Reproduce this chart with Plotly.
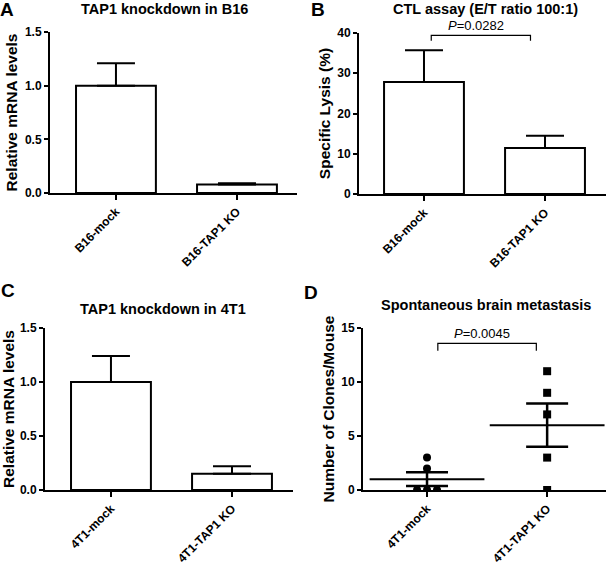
import numpy as np
import plotly.graph_objects as go

# Panel A: TAP1 mRNA in B16
a_groups = ["B16-mock", "B16-TAP1 KO"]
a_vals = [1.0, 0.08]
a_err = [0.21, 0.01]

# Panel B: CTL assay
b_groups = ["B16-mock", "B16-TAP1 KO"]
b_vals = [27.8, 11.4]
b_err = [7.9, 3.1]
b_pval = "<i>P</i>=0.0282"

# Panel C: TAP1 mRNA in 4T1
c_groups = ["4T1-mock", "4T1-TAP1 KO"]
c_vals = [1.0, 0.15]
c_err = [0.24, 0.07]

# Panel D: brain metastasis counts per mouse
d_groups = ["4T1-mock", "4T1-TAP1 KO"]
d_mock = [0, 0, 0, 2, 3]
d_mock_x = [-0.083, 0.0, 0.083, 0.0, 0.0]
d_ko = [0, 3, 7, 9, 11]
d_ko_x = [1, 1, 1, 1, 1]
d_pval = "<i>P</i>=0.0045"

# y ticks per panel
a_yticks = [0, 0.5, 1.0, 1.5]
b_yticks = [0, 10, 20, 30, 40]
c_yticks = [0, 0.5, 1.0, 1.5]
d_yticks = [0, 5, 10, 15]

FONT = "Arial, Liberation Sans, sans-serif"
W, H = 609, 562


def px_x(p):
    return p / W


def px_y(p):
    return 1 - p / H


def bold(s):
    return f"<b>{s}</b>"


fig = go.Figure()


def bar_panel(n, vals, errs):
    fig.add_trace(go.Bar(
        x=[0, 1], y=vals, width=0.66,
        marker=dict(color="white", line=dict(color="black", width=2)),
        error_y=dict(type="data", symmetric=False, array=errs, arrayminus=[0, 0],
                     color="black", thickness=2, width=19),
        xaxis="x" + ("" if n == 1 else str(n)),
        yaxis="y" + ("" if n == 1 else str(n)),
        showlegend=False,
    ))


bar_panel(1, a_vals, a_err)
bar_panel(2, b_vals, b_err)
bar_panel(3, c_vals, c_err)

# Panel D scatter with mean +/- SEM
for xpos, data in [(0, d_mock), (1, d_ko)]:
    arr = np.array(data, dtype=float)
    mean = arr.mean()
    sem = arr.std(ddof=1) / np.sqrt(len(arr))
    fig.add_trace(go.Scatter(
        x=[xpos], y=[mean], mode="markers", xaxis="x4", yaxis="y4",
        marker=dict(symbol="line-ew", size=82, color="black", line=dict(color="black", width=2)),
        error_y=dict(type="data", array=[sem], color="black", thickness=2.5, width=21),
        showlegend=False,
    ))
fig.add_trace(go.Scatter(x=d_mock_x, y=d_mock, mode="markers", xaxis="x4", yaxis="y4",
                         marker=dict(symbol="circle", size=8, color="black"), showlegend=False))
fig.add_trace(go.Scatter(x=d_ko_x, y=d_ko, mode="markers", xaxis="x4", yaxis="y4",
                         marker=dict(symbol="square", size=8, color="black"), showlegend=False))

axis_common = dict(showline=True, linecolor="black", linewidth=2, ticks="outside",
                   tickcolor="black", tickwidth=2, showgrid=False, zeroline=False,
                   automargin=False,
                   tickfont=dict(family=FONT, size=12, color="black"))

panels = [
    # (x0, x1, ytop, ybot, xrange, yrange, yticks, ytitle, groups, fmt)
    (50, 297, 32, 193, [-0.545, 1.496], [0, 1.5], a_yticks, "Relative mRNA levels", a_groups, "{:.1f}"),
    (359, 606, 33, 194, [-0.537, 1.504], [0, 40], b_yticks, "Specific Lysis (%)", b_groups, "{:d}"),
    (45, 293, 328, 490, [-0.545, 1.504], [0, 1.5], c_yticks, "Relative mRNA levels", c_groups, "{:.1f}"),
    (363, 606, 328, 490, [-0.533, 1.49], [0, 15], d_yticks, "Number of Clones/Mouse", d_groups, "{:d}"),
]

layout = dict(width=W, height=H, margin=dict(l=0, r=0, t=0, b=0),
              plot_bgcolor="white", paper_bgcolor="white",
              font=dict(family=FONT, color="black"))
for i, (x0, x1, yt, yb, xr, yr, yticks, yt_text, groups, fmt) in enumerate(panels, start=1):
    sfx = "" if i == 1 else str(i)
    layout["xaxis" + sfx] = dict(axis_common, domain=[px_x(x0), px_x(x1)], range=xr,
                                 anchor="y" + sfx, tickvals=[0, 1],
                                 ticktext=[bold(g) for g in groups],
                                 tickangle=-45, ticklen=5)
    layout["yaxis" + sfx] = dict(axis_common, domain=[px_y(yb), px_y(yt)], range=yr,
                                 anchor="x" + sfx, tickvals=yticks,
                                 ticktext=[bold(fmt.format(v)) for v in yticks], ticklen=4,
                                 title=dict(text=bold(yt_text), standoff=3,
                                            font=dict(family=FONT, size=15.5, color="black")))
fig.update_layout(**layout)

# significance brackets
fig.add_shape(type="path", path="M 0.06,38.1 L 0.06,39.4 L 0.88,39.4 L 0.88,38.1",
              xref="x2", yref="y2", line=dict(color="black", width=1.2))
fig.add_annotation(x=0.43, y=39.4, xref="x2", yref="y2", text=b_pval, showarrow=False,
                   yanchor="bottom", font=dict(family=FONT, size=13, color="black"))
fig.add_shape(type="path", path="M 0.09,12.9 L 0.09,13.58 L 0.91,13.58 L 0.91,12.9",
              xref="x4", yref="y4", line=dict(color="black", width=1.2))
fig.add_annotation(x=0.46, y=13.58, xref="x4", yref="y4", text=d_pval, showarrow=False,
                   yanchor="bottom", font=dict(family=FONT, size=13, color="black"))

# panel titles and letters
titles = [
    ("TAP1 knockdown in B16", 164, 9),
    ("CTL assay (E/T ratio 100:1)", 485, 9),
    ("TAP1 knockdown in 4T1", 163, 309),
    ("Spontaneous brain metastasis", 486, 305),
]
for text, cx, cy in titles:
    fig.add_annotation(x=px_x(cx), y=px_y(cy), xref="paper", yref="paper", text=bold(text),
                       showarrow=False, xanchor="center", yanchor="middle",
                       font=dict(family=FONT, size=14.5, color="black"))
letters = [("A", 7, 9), ("B", 318, 9), ("C", 8, 290), ("D", 311, 292)]
for text, cx, cy in letters:
    fig.add_annotation(x=px_x(cx), y=px_y(cy), xref="paper", yref="paper", text=bold(text),
                       showarrow=False, xanchor="center", yanchor="middle",
                       font=dict(family=FONT, size=19, color="black"))

# drop the browser's default body margin so the figure sits flush in the window
fig.write_html("out.html", config={"displayModeBar": False},
               post_script="document.body.style.margin='0';document.body.style.overflow='hidden';")
